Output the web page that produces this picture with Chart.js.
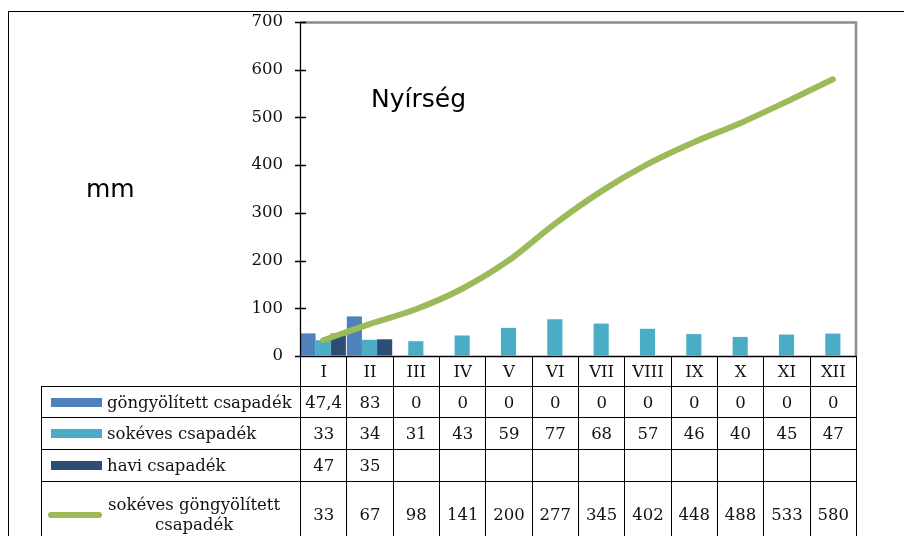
<!DOCTYPE html>
<html>
<head>
  <meta charset="utf-8">
  <title>Nyírség csapadék</title>
  <script src="https://cdn.jsdelivr.net/npm/chart.js"></script>
  <style>
    body { margin: 0; background: #fff; }
    #wrap { position: relative; width: 904px; height: 536px; overflow: hidden; }
    #chart { position: absolute; left: 0; top: 0; }
    .frame { position: absolute; left: 8px; top: 11px; width: 900px; height: 600px; border-top: 1px solid #000; border-left: 1px solid #000; }
    .txt { position: absolute; font-family: "DejaVu Sans", sans-serif; font-size: 25px; color: #000; }
    table { position: absolute; left: 41px; top: 356px; border-collapse: collapse; table-layout: fixed; width: 815px;
            font-family: "DejaVu Serif", serif; font-size: 16.5px; color: #111; }
    td { border: 1px solid #000; text-align: center; padding: 0; white-space: nowrap; }
    tr.hd td { border-top: none; height: 30px; }
    tr.hd td.blank { border: none; }
    td.leg { text-align: left; }
    .lg { display: flex; align-items: center; }
    .sw { width: 51px; height: 9px; margin-left: 9px; margin-right: 5px; flex: none; }
    .sw.line { height: 6px; border-radius: 3px; margin-left: 6px; margin-right: 6px; width: 54px; }
    .two { text-align: center; line-height: 20px; }
  </style>
</head>
<body>
<div id="wrap">
  <div class="frame"></div>
  <canvas id="chart" width="904" height="536"></canvas>
  <div class="txt" style="left:86px; top:174px;">mm</div>
  <div class="txt" style="left:371px; top:84px;">Nyírség</div>
  <table id="tbl"></table>
</div>
<script>
  // havok
  const months = ['I', 'II', 'III', 'IV', 'V', 'VI', 'VII', 'VIII', 'IX', 'X', 'XI', 'XII'];
  // csapadék adatok (mm)
  const gongyolitett = [47.4, 83, 0, 0, 0, 0, 0, 0, 0, 0, 0, 0];
  const sokeves = [33, 34, 31, 43, 59, 77, 68, 57, 46, 40, 45, 47];
  const havi = [47, 35, null, null, null, null, null, null, null, null, null, null];
  const sokevesGongy = [33, 67, 98, 141, 200, 277, 345, 402, 448, 488, 533, 580];
  const yTicks = [0, 100, 200, 300, 400, 500, 600, 700];

  const cBlue = '#4F81BD', cTeal = '#4BACC6', cDark = '#2C4D75', cGreen = '#9BBB59';

  // tengelyek, keret
  const axesPlugin = {
    id: 'axes',
    afterDraw(chart) {
      const ctx = chart.ctx, a = chart.chartArea, y = chart.scales.y;
      ctx.save();
      ctx.strokeStyle = '#8c8c8c';
      ctx.lineWidth = 2.5;
      ctx.beginPath();
      ctx.moveTo(a.left, a.top + 0.5);
      ctx.lineTo(a.right, a.top + 0.5);
      ctx.lineTo(a.right, a.bottom);
      ctx.stroke();
      ctx.strokeStyle = '#000';
      ctx.lineWidth = 1.3;
      ctx.beginPath();
      ctx.moveTo(a.left + 0.5, a.top);
      ctx.lineTo(a.left + 0.5, a.bottom);
      ctx.moveTo(a.left, a.bottom + 0.5);
      ctx.lineTo(a.right, a.bottom + 0.5);
      yTicks.forEach(v => {
        const py = Math.round(y.getPixelForValue(v)) + 0.5;
        ctx.moveTo(a.left - 5, py);
        ctx.lineTo(a.left + 6, py);
      });
      ctx.stroke();
      ctx.restore();
    }
  };

  new Chart(document.getElementById('chart'), {
    data: {
      labels: months,
      datasets: [
        { type: 'bar', label: 'göngyölített csapadék', data: gongyolitett, backgroundColor: cBlue, order: 1 },
        { type: 'bar', label: 'sokéves csapadék', data: sokeves, backgroundColor: cTeal, order: 1 },
        { type: 'bar', label: 'havi csapadék', data: havi, backgroundColor: cDark, order: 1 },
        { type: 'line', label: 'sokéves göngyölített csapadék', data: sokevesGongy, borderColor: cGreen,
          borderWidth: 6, pointRadius: 0, cubicInterpolationMode: 'monotone', borderCapStyle: 'round', order: 0 }
      ]
    },
    options: {
      responsive: false,
      animation: false,
      layout: { padding: { left: 240, right: 48, top: 22, bottom: 180 } },
      datasets: { bar: { categoryPercentage: 0.98, barPercentage: 1 } },
      plugins: { legend: { display: false }, tooltip: { enabled: false } },
      scales: {
        x: { display: false, offset: true },
        y: {
          min: 0, max: 700,
          afterFit(scale) { scale.width = 60; },
          grid: { display: true, drawOnChartArea: false, drawTicks: true, tickLength: 17, color: 'rgba(0,0,0,0)' },
          border: { display: false },
          ticks: { stepSize: 100, padding: 0, color: '#111', font: { family: 'DejaVu Serif', size: 16.5 } }
        }
      }
    },
    plugins: [axesPlugin]
  });

  // adattábla
  const fmt = v => (v === null ? '' : String(v).replace('.', ','));
  const rows = [
    { name: 'göngyölített csapadék', data: gongyolitett, sw: '<span class="sw" style="background:' + cBlue + '"></span>', h: 31 },
    { name: 'sokéves csapadék', data: sokeves, sw: '<span class="sw" style="background:' + cTeal + '"></span>', h: 32 },
    { name: 'havi csapadék', data: havi, sw: '<span class="sw" style="background:' + cDark + '"></span>', h: 32 },
    { name: '<span class="two">sokéves göngyölített<br>csapadék</span>', data: sokevesGongy,
      sw: '<span class="sw line" style="background:' + cGreen + '"></span>', h: 66 }
  ];
  let html = '<colgroup><col style="width:259px">' + months.map(() => '<col style="width:46.333px">').join('') + '</colgroup>';
  html += '<tr class="hd"><td class="blank"></td>' + months.map(m => '<td>' + m + '</td>').join('') + '</tr>';
  rows.forEach(r => {
    html += '<tr style="height:' + r.h + 'px"><td class="leg"><div class="lg">' + r.sw + r.name + '</div></td>' +
      r.data.map(v => '<td>' + fmt(v) + '</td>').join('') + '</tr>';
  });
  document.getElementById('tbl').innerHTML = html;
</script>
</body>
</html>
